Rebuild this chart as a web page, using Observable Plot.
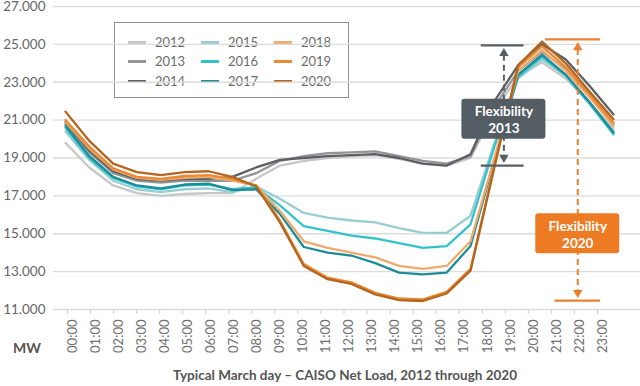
<!DOCTYPE html>
<html>
<head>
<meta charset="utf-8">
<script src="https://cdn.jsdelivr.net/npm/d3@7"></script>
<script src="https://cdn.jsdelivr.net/npm/@observablehq/plot@0.6"></script>
<style>
  html, body { margin: 0; padding: 0; background: #fff; }
  #wrap { position: relative; width: 640px; height: 386px; font-family: Lato, "Open Sans", sans-serif; overflow: hidden; }
  #wrap svg { position: absolute; left: 0; overflow: visible; }
  #legend { position: absolute; left: 114px; top: 22px; width: 235px; height: 76px; border: 1px solid #8f8f8f; background: #fff; box-sizing: border-box; }
  .item { position: absolute; font-size: 13px; color: #6b6b6b; line-height: 14px; }
  .sw { position: absolute; width: 18px; height: 2.6px; top: 6px; left: -27px; }
  #mw { position: absolute; left: 13px; top: 339px; font-size: 14px; font-weight: 700; color: #555; }
  #title { position: absolute; left: 0; width: 690px; text-align: center; top: 367px; font-size: 13.5px; font-weight: 700; color: #555; }
</style>
</head>
<body>
<div id="wrap">
  <div id="legend"></div>
  <div id="mw">MW</div>
  <div id="title">Typical March day – CAISO Net Load, 2012 through 2020</div>
</div>
<script>
// ---- data (MW) ----
const hours = ["00:00","01:00","02:00","03:00","04:00","05:00","06:00","07:00","08:00","09:00","10:00","11:00",
               "12:00","13:00","14:00","15:00","16:00","17:00","18:00","19:00","20:00","21:00","22:00","23:00"];
const years = [2012, 2013, 2014, 2015, 2016, 2017, 2018, 2019, 2020];
const colors = ["#c6c7c8", "#929497", "#5b6064", "#98cdd2", "#34c2ca", "#1c8d97", "#f1aa6e", "#e98a34", "#b4651f"];

const y2012 = [19800,18500,17550,17150,17000,17100,17150,17150,17900,18600,18850,19000,19100,19150,18950,18700,18600,19000,21500,23300,24050,23200,21900,20550];
const y2013 = [20800,19300,18200,17800,17700,17800,17800,17800,18200,18850,19100,19250,19300,19350,19100,18850,18700,19100,21700,23600,24600,23700,22300,20800];
const y2014 = [20900,19400,18300,17900,17800,17900,17900,18000,18500,18900,19000,19100,19150,19200,19000,18700,18600,19200,22000,23900,25000,24200,22800,21300];
const y2015 = [20400,18900,17800,17350,17200,17350,17400,17200,17500,16850,16100,15850,15700,15600,15300,15050,15050,15950,19800,23200,24200,23350,21900,20400];
const y2016 = [20600,19000,17950,17500,17350,17550,17600,17350,17450,16500,15400,15150,14900,14750,14500,14250,14350,15500,19600,23300,24350,23350,21850,20250];
const y2017 = [20700,19100,18000,17550,17400,17600,17650,17300,17350,16050,14300,14000,13850,13450,12950,12850,12950,14350,18900,23400,24450,23400,21950,20350];
const y2018 = [20900,19500,18400,17950,17850,17950,18000,17800,17550,16200,14600,14250,14000,13750,13300,13150,13300,14600,19000,23600,24700,23600,22200,20700];
const y2019 = [21000,19600,18450,18000,17900,18050,18100,17900,17550,15700,13400,12680,12430,11880,11580,11530,11930,13150,18600,23800,24900,23800,22350,20850];
const y2020 = [21450,19900,18700,18250,18100,18250,18300,18000,17500,15600,13300,12600,12350,11800,11500,11450,11850,13050,18500,23900,25150,24000,22500,21050];
const series = [y2012, y2013, y2014, y2015, y2016, y2017, y2018, y2019, y2020];

const yTicks = [11000, 13000, 15000, 17000, 19000, 21000, 23000, 25000, 27000];

// flexibility annotations: low / high net load bounds
const flexLabels = ["Flexibility\n2013", "Flexibility\n2020"];
const flexLow = [18600, 11470];
const flexHigh = [24950, 25260];

// ---- build table ----
const rows = [];
series.forEach((s, k) => s.forEach((v, i) => rows.push({year: years[k], hour: i, value: v})));

const annot = [
  {label: flexLabels[0], lo: flexLow[0], hi: flexHigh[0], x: 18.4, bx1: 17.45, bx2: 19.25, lx1: 17.45, lx2: 19.25, boxY: 21050, color: "#575f65", fill: "#545d63"},
  {label: flexLabels[1], lo: flexLow[1], hi: flexHigh[1], x: 21.5, bx1: 20.15, bx2: 22.45, lx1: 20.55, lx2: 22.45, boxY: 15000, color: "#ea8130", fill: "#ec7b24"}
];

const fmt = d => d3.format(",")(d).replace(/,/g, ".");

const main = Plot.plot({
  width: 640,
  height: 320,
  marginTop: 6,
  marginBottom: 11,
  marginLeft: 65,
  marginRight: 27,
  style: {fontFamily: "Lato, 'Open Sans', sans-serif", fontSize: "13.5px", color: "#666", background: "transparent"},
  x: {domain: [0, 23], axis: null},
  y: {domain: [11000, 27000], ticks: yTicks, tickFormat: fmt, tickSize: 0, tickPadding: 20, label: null},
  color: {domain: years, range: colors},
  marks: [
    Plot.ruleY(yTicks, {stroke: "#dcdcdc", strokeWidth: 1.3, insetLeft: -12, insetRight: -27}),
    Plot.line(rows, {x: "hour", y: "value", z: "year", stroke: "year", strokeWidth: 2.3, strokeLinejoin: "round"}),
    // bars
    Plot.ruleY(annot, {y: "hi", x1: "bx1", x2: "bx2", stroke: "color", strokeWidth: 2.2}),
    Plot.ruleY(annot, {y: "lo", x1: "lx1", x2: "lx2", stroke: "color", strokeWidth: 2.2}),
    // dashed arrows
    Plot.ruleX(annot, {x: "x", y1: "hi", y2: "lo", stroke: "color", strokeWidth: 2, strokeDasharray: "6,4", insetTop: 10, insetBottom: 10}),
    Plot.dot(annot, {x: "x", y: "hi", symbol: "triangle2", r: 4.5, fill: "color", stroke: null, dy: 8}),
    Plot.dot(annot, {x: "x", y: "lo", symbol: "triangle2", r: 4.5, fill: "color", stroke: null, dy: -8, rotate: 180}),
    // boxes
    Plot.rect(annot, {x1: "x", x2: "x", y1: "boxY", y2: "boxY", insetLeft: -42, insetRight: -42, insetTop: -20, insetBottom: -20, fill: "fill", rx: 3}),
    Plot.text(annot, {x: "x", y: "boxY", text: "label", fill: "white", fontWeight: 700, fontSize: 13.5, lineHeight: 1.25})
  ]
});
main.style.top = "0px";
document.getElementById("wrap").appendChild(main);

// x-axis labels
const axis = Plot.plot({
  width: 640,
  height: 70,
  marginTop: 1,
  marginBottom: 0,
  marginLeft: 67,
  marginRight: 43,
  style: {fontFamily: "Lato, 'Open Sans', sans-serif", fontSize: "13px", color: "#707070", background: "transparent"},
  x: {domain: [0, 23], axis: null},
  marks: [
    Plot.tickX(hours, {x: (d, i) => i, stroke: "#d0d0d0", insetBottom: 65}),
    Plot.text(hours, {x: (d, i) => i, text: d => d, rotate: -90, textAnchor: "end", frameAnchor: "top", dy: 9, fill: "#707070"})
  ]
});
axis.style.top = "309px";
document.getElementById("wrap").appendChild(axis);

// legend
const legend = document.getElementById("legend");
const colX = [40, 113, 186];
const rowY = [12, 31, 51];
years.forEach((yr, k) => {
  const it = document.createElement("div");
  it.className = "item";
  it.style.left = colX[Math.floor(k / 3)] + "px";
  it.style.top = rowY[k % 3] + "px";
  const sw = document.createElement("span");
  sw.className = "sw";
  sw.style.background = colors[k];
  it.appendChild(sw);
  it.appendChild(document.createTextNode(String(yr)));
  legend.appendChild(it);
});
</script>
</body>
</html>
